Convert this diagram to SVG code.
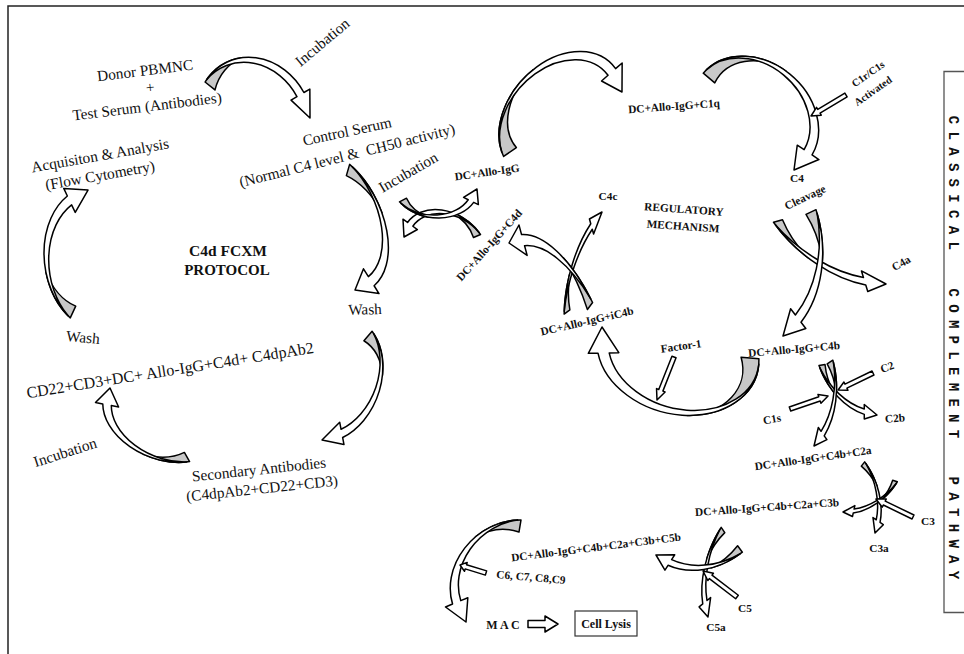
<svg xmlns="http://www.w3.org/2000/svg" xmlns:xlink="http://www.w3.org/1999/xlink" width="964" height="654" viewBox="0 0 964 654">
<style>
.g{fill:#c8c8c8;stroke:#000;stroke-width:1.5;stroke-linejoin:round}
.w{fill:#fff;stroke:#000;stroke-width:1.5;stroke-linejoin:round}
.r{font-family:"Liberation Serif","Times New Roman",serif;font-size:15.3px;fill:#111;text-anchor:middle;dominant-baseline:central}
.b{font-family:"Liberation Serif","Times New Roman",serif;font-weight:bold;font-size:11.3px;fill:#111;text-anchor:middle;dominant-baseline:central}
.v{font-family:"Liberation Mono","Courier New",monospace;font-weight:bold;font-size:14px;fill:#111;letter-spacing:7.3px}
.frame{fill:none;stroke:#222;stroke-width:1.5}
</style>
<defs>
<g id="T1">
<path class="g" vector-effect="non-scaling-stroke" d="M-50 0A50 50 0 0 1-4.36-49.81A42 42 0 0 0-39 0Z"/>
<path class="w" vector-effect="non-scaling-stroke" d="M-49.81-4.36A50 50 0 0 1 49.51-6.96L55.5-7.8L46.5 14L36.6-5.1L42.58-5.98A46.6 46.6 0 0 0-49.81-4.36Z"/>
</g>
<g id="T2">
<path class="g" vector-effect="non-scaling-stroke" d="M-43.3-25A50 50 0 0 1-12.94-48.3A42 42 0 0 0-34.64-20Z"/>
<path class="w" vector-effect="non-scaling-stroke" d="M-41.93-27.23A50 50 0 0 1 40.96-28.68L45.9-32.1L47-9.5L30.3-21.2L35.22-24.66A47.8 47.8 0 0 0-41.93-27.23Z"/>
</g>
<g id="T3">
<path class="g" vector-effect="non-scaling-stroke" d="M-46.18-59.1A75 75 0 0 1-13.02-73.86A65 65 0 0 0-40.02-51.22Z"/>
<path class="w" vector-effect="non-scaling-stroke" d="M-44.09-60.68A75 75 0 0 1 35.21-66.22L38.03-71.51L50-53L29.11-54.74L31.93-60.04A80 80 0 0 0-44.09-60.68Z"/>
</g>
<polygon id="T4" class="w" vector-effect="non-scaling-stroke" points="0,-2.2 31,-2.2 31,-4.6 40,0 31,4.6 31,2.2 0,2.2"/>
</defs>
<rect width="964" height="654" fill="#fff"/>
<path class="frame" d="M8 654V6H964"/>
<path fill="none" stroke="#555" stroke-width="1.3" d="M964 71.5H944V612.5H964"/>

<g id="connectors">
<use href="#T2" transform="matrix(1.1708,0.1797,-0.05,1.2729,254.5,121.64)"/>
<use href="#T2" transform="matrix(0.2437,1.4303,-1.0729,-0.2277,333.36,220.62)"/>
<use href="#T2" transform="matrix(-0.3908,1.2498,-0.9538,-0.2652,331.31,378.73)"/>
<use href="#T2" transform="matrix(-1.0002,-0.7108,0.6917,-0.6072,163.58,415.64)"/>
<use href="#T2" transform="matrix(0.0124,-1.4404,1.0721,0.1407,97.6,259.04)"/>
<use href="#T2" transform="matrix(-0.8623,-0.1082,0.0871,0.7922,445.36,249.6)"/>
<use href="#T2" transform="matrix(0.8764,-0.0239,-0.1035,-0.6884,434.82,183.58)"/>
<use href="#T1" transform="matrix(1.1583,-0.8127,0.4709,0.9967,561.54,115.83)"/>
<use href="#T1" transform="matrix(1.0435,0.8811,-0.7113,0.8442,755.44,117.21)"/>
<use href="#T3" transform="matrix(1.1545,0.6965,0.2398,-0.8558,840.99,203.81)"/>
<use href="#T3" transform="matrix(-0.2763,1.3426,-1.0539,-0.4604,740.96,244.47)"/>
<use href="#T1" transform="matrix(-1.62,-0.1454,-0.0418,-1.2694,677.91,351.53)"/>
<use href="#T3" transform="matrix(0.3657,-1.0816,0.4416,0.3218,607.12,283.13)"/>
<use href="#T3" transform="matrix(-0.8706,-0.7099,0.0241,1.4316,553.81,354.37)"/>
<use href="#T3" transform="matrix(0.5836,0.5503,0.3101,-0.5688,864.26,357.34)"/>
<use href="#T3" transform="matrix(-0.158,0.9079,-0.5954,-0.2453,790.35,387.6)"/>
<use href="#T3" transform="matrix(0.1414,0.7419,-0.5396,-0.0315,839.33,494.24)"/>
<use href="#T3" transform="matrix(-0.555,0.3438,-0.1523,-0.4678,862.68,470.02)"/>
<use href="#T3" transform="matrix(-0.1749,0.9358,0.5929,-0.0588,748.16,567.09)"/>
<use href="#T3" transform="matrix(-0.9046,0.0847,0.1014,-0.8744,706.6,504.42)"/>
<use href="#T2" transform="matrix(-0.7709,1.0238,0.944,0.6144,511.2,579.72)"/>
<use href="#T4" transform="translate(846,95) rotate(149) scale(1.02,1)"/>
<use href="#T4" transform="translate(674,357) rotate(111.6) scale(1.155,1)"/>
<use href="#T4" transform="translate(873,373) rotate(154.1) scale(0.97,1)"/>
<use href="#T4" transform="translate(790,409) rotate(-18.9) scale(1.005,1)"/>
<use href="#T4" transform="translate(913,517) rotate(205.9) scale(1.03,1)"/>
<use href="#T4" transform="translate(737,597) rotate(217.4) scale(1.07,1)"/>
<use href="#T4" transform="translate(486,573) rotate(197.1) scale(0.68,1)"/>
<polygon class="w" points="528,620.5 545,620.5 545,616 558,624 545,632 545,627.5 528,627.5"/>
</g>

<g id="incubation1"><text class="r" transform="translate(322,42) rotate(-40)">Incubation</text></g>
<g id="donor">
<text class="r" transform="translate(145,70) rotate(-7)">Donor PBMNC</text>
<text class="r" transform="translate(150,87) rotate(-7)">+</text>
<text class="r" transform="translate(147,106) rotate(-7)">Test Serum (Antibodies)</text>
</g>
<g id="control-serum">
<text class="r" transform="translate(347,131) rotate(-12)">Control Serum</text>
<text class="r" transform="translate(347,155) rotate(-14)" xml:space="preserve">(Normal C4 level &amp;  CH50 activity)</text>
</g>
<g id="acquisition">
<text class="r" transform="translate(100,155) rotate(-10)">Acquisiton &amp; Analysis</text>
<text class="r" transform="translate(100,175) rotate(-10)">(Flow Cytometry)</text>
</g>
<g id="incubation2"><text class="r" transform="translate(408,172) rotate(-30)">Incubation</text></g>
<g id="protocol">
<text class="b" style="font-size:15.5px" x="228" y="250">C4d FCXM</text>
<text class="b" style="font-size:15px" x="227" y="270">PROTOCOL</text>
</g>
<g id="wash-right"><text class="r" transform="translate(365,309) rotate(-2)">Wash</text></g>
<g id="wash-left"><text class="r" transform="translate(83,337) rotate(5)">Wash</text></g>
<g id="cd22"><text class="r" style="font-size:16px" transform="translate(170,370) rotate(-9)">CD22+CD3+DC+ Allo-IgG+C4d+ C4dpAb2</text></g>
<g id="incubation3"><text class="r" transform="translate(65,452) rotate(-18)">Incubation</text></g>
<g id="secondary">
<text class="r" transform="translate(259,469) rotate(-6)">Secondary Antibodies</text>
<text class="r" transform="translate(262,488) rotate(-6)">(C4dpAb2+CD22+CD3)</text>
</g>

<g id="dc-allo-igg"><text class="b" transform="translate(487,172) rotate(-8)">DC+Allo-IgG</text></g>
<g id="dc-c1q"><text class="b" transform="translate(674,106) rotate(-4)">DC+Allo-IgG+C1q</text></g>
<g id="c1r">
<text class="b" style="font-size:10.5px" transform="translate(868,74) rotate(-35)">C1r/C1s</text>
<text class="b" style="font-size:10.5px" transform="translate(873,91) rotate(-35)">Activated</text>
</g>
<g id="c4">
<text class="b" x="797" y="178">C4</text>
<text class="b" transform="translate(805,197) rotate(-25)">Cleavage</text>
</g>
<g id="regulatory">
<text class="b" transform="translate(684,209) rotate(4)">REGULATORY</text>
<text class="b" transform="translate(683,226) rotate(4)">MECHANISM</text>
</g>
<g id="c4c"><text class="b" x="608" y="196">C4c</text></g>
<g id="dc-c4d"><text class="b" transform="translate(489,245) rotate(-48)">DC+Allo-IgG+C4d</text></g>
<g id="c4a"><text class="b" transform="translate(901,263) rotate(-30)">C4a</text></g>
<g id="dc-ic4b"><text class="b" transform="translate(587,321) rotate(-13)">DC+Allo-IgG+iC4b</text></g>
<g id="factor1"><text class="b" transform="translate(681,346) rotate(-8)">Factor-1</text></g>
<g id="dc-c4b"><text class="b" transform="translate(794,349) rotate(-5)">DC+Allo-IgG+C4b</text></g>
<g id="c2"><text class="b" transform="translate(887,367) rotate(-20)">C2</text></g>
<g id="c1s"><text class="b" transform="translate(772,419) rotate(-10)">C1s</text></g>
<g id="c2b"><text class="b" transform="translate(895,418) rotate(-5)">C2b</text></g>
<g id="dc-c2a"><text class="b" transform="translate(813,458) rotate(-8)">DC+Allo-IgG+C4b+C2a</text></g>
<g id="dc-c3b"><text class="b" transform="translate(767,507) rotate(-4)">DC+Allo-IgG+C4b+C2a+C3b</text></g>
<g id="c3"><text class="b" x="928" y="521">C3</text></g>
<g id="c3a"><text class="b" x="879" y="548">C3a</text></g>
<g id="dc-c5b"><text class="b" transform="translate(596,547) rotate(-7)">DC+Allo-IgG+C4b+C2a+C3b+C5b</text></g>
<g id="c6-c9"><text class="b" transform="translate(531,577) rotate(5)">C6, C7, C8,C9</text></g>
<g id="c5"><text class="b" x="745" y="608">C5</text></g>
<g id="c5a"><text class="b" x="716" y="627">C5a</text></g>
<g id="mac"><text class="b" style="font-size:12px" x="503" y="625">M A C</text></g>
<g id="cell-lysis">
<rect x="575" y="611" width="62" height="25" fill="#fff" stroke="#333" stroke-width="1.2"/>
<text class="b" style="font-size:12px" x="606" y="623.5">Cell Lysis</text>
</g>
<g id="pathway-title">
<text class="v" transform="translate(948.5,115.8) rotate(90)">CLASSICAL</text>
<text class="v" transform="translate(948.5,288.5) rotate(90)">COMPLEMENT</text>
<text class="v" transform="translate(948.5,476.6) rotate(90)">PATHWAY</text>
</g>
</svg>
